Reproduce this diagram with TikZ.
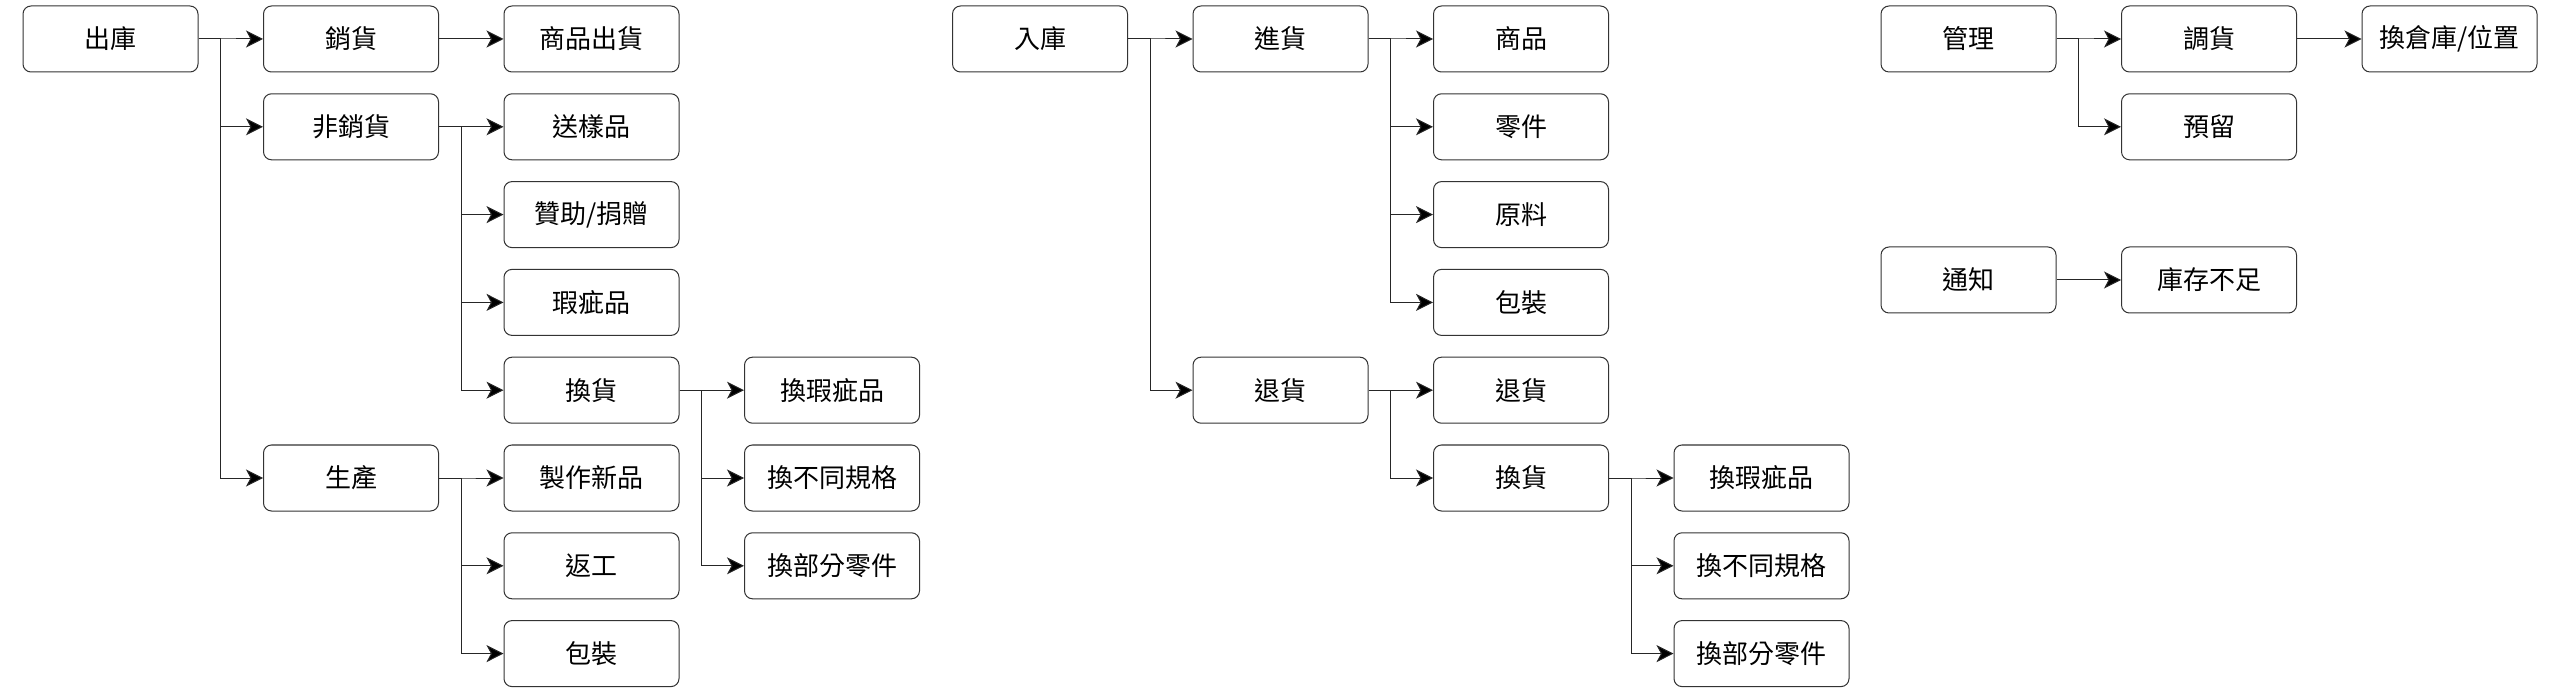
\documentclass[tikz,border=0pt]{standalone}
\usepackage{fontspec}
\setmainfont{Noto Sans CJK TC}
\usetikzlibrary{arrows.meta}
\begin{document}
\begin{tikzpicture}[x=1pt,y=-1pt,
  box/.style={draw=black!80, line width=1pt, rounded corners=8pt, minimum width=175pt,
    minimum height=66pt, inner sep=0pt, font=\fontsize{26}{30}\selectfont, fill=white},
  conn/.style={draw=black!85, line width=1pt, -{Stealth[length=17pt,width=17pt,inset=4.5pt,fill=black]}},
]
\useasboundingbox (0,0) rectangle (2560,692);
% ---------- group 1: 出庫 ----------
\node[box] (a0) at (110.5,39) {出庫};
\node[box] (a1) at (351,39) {銷貨};
\node[box] (a2) at (591.5,39) {商品出貨};
\node[box] (a3) at (351,126.8) {非銷貨};
\node[box] (a4) at (591.5,126.8) {送樣品};
\node[box] (a5) at (591.5,214.6) {贊助/捐贈};
\node[box] (a6) at (591.5,302.4) {瑕疵品};
\node[box] (a7) at (591.5,390.2) {換貨};
\node[box] (a8) at (832,390.2) {換瑕疵品};
\node[box] (a9) at (832,478) {換不同規格};
\node[box] (a10) at (832,565.8) {換部分零件};
\node[box] (a11) at (351,478) {生產};
\node[box] (a12) at (591.5,478) {製作新品};
\node[box] (a13) at (591.5,565.8) {返工};
\node[box] (a14) at (591.5,653.6) {包裝};
\draw[conn] (a0.east) -- ++(22,0) |- (a1.west);
\draw[conn] (a0.east) -- ++(22,0) |- (a3.west);
\draw[conn] (a0.east) -- ++(22,0) |- (a11.west);
\draw[conn] (a1.east) -- (a2.west);
\draw[conn] (a3.east) -- ++(22,0) |- (a4.west);
\draw[conn] (a3.east) -- ++(22,0) |- (a5.west);
\draw[conn] (a3.east) -- ++(22,0) |- (a6.west);
\draw[conn] (a3.east) -- ++(22,0) |- (a7.west);
\draw[conn] (a7.east) -- ++(22,0) |- (a8.west);
\draw[conn] (a7.east) -- ++(22,0) |- (a9.west);
\draw[conn] (a7.east) -- ++(22,0) |- (a10.west);
\draw[conn] (a11.east) -- ++(22,0) |- (a12.west);
\draw[conn] (a11.east) -- ++(22,0) |- (a13.west);
\draw[conn] (a11.east) -- ++(22,0) |- (a14.west);
% ---------- group 2: 入庫 ----------
\node[box] (b0) at (1040,39) {入庫};
\node[box] (b1) at (1280.5,39) {進貨};
\node[box] (b2) at (1521,39) {商品};
\node[box] (b3) at (1521,126.8) {零件};
\node[box] (b4) at (1521,214.6) {原料};
\node[box] (b5) at (1521,302.4) {包裝};
\node[box] (b6) at (1280.5,390.2) {退貨};
\node[box] (b7) at (1521,390.2) {退貨};
\node[box] (b8) at (1521,478) {換貨};
\node[box] (b9) at (1761.5,478) {換瑕疵品};
\node[box] (b10) at (1761.5,565.8) {換不同規格};
\node[box] (b11) at (1761.5,653.6) {換部分零件};
\draw[conn] (b0.east) -- ++(22,0) |- (b1.west);
\draw[conn] (b0.east) -- ++(22,0) |- (b6.west);
\draw[conn] (b1.east) -- ++(22,0) |- (b2.west);
\draw[conn] (b1.east) -- ++(22,0) |- (b3.west);
\draw[conn] (b1.east) -- ++(22,0) |- (b4.west);
\draw[conn] (b1.east) -- ++(22,0) |- (b5.west);
\draw[conn] (b6.east) -- ++(22,0) |- (b7.west);
\draw[conn] (b6.east) -- ++(22,0) |- (b8.west);
\draw[conn] (b8.east) -- ++(22,0) |- (b9.west);
\draw[conn] (b8.east) -- ++(22,0) |- (b10.west);
\draw[conn] (b8.east) -- ++(22,0) |- (b11.west);
% ---------- group 3: 管理 / 通知 ----------
\node[box] (c0) at (1968.5,39) {管理};
\node[box] (c1) at (2209,39) {調貨};
\node[box] (c2) at (2449.5,39) {換倉庫/位置};
\node[box] (c3) at (2209,126.8) {預留};
\node[box] (c4) at (1968.5,280) {通知};
\node[box] (c5) at (2209,280) {庫存不足};
\draw[conn] (c0.east) -- ++(22,0) |- (c1.west);
\draw[conn] (c0.east) -- ++(22,0) |- (c3.west);
\draw[conn] (c1.east) -- (c2.west);
\draw[conn] (c4.east) -- (c5.west);
\end{tikzpicture}
\end{document}
